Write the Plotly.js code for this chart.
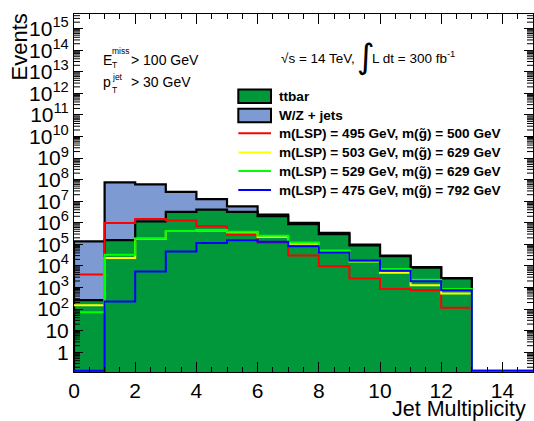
<!DOCTYPE html>
<html><head><meta charset="utf-8">
<script src="https://cdn.plot.ly/plotly-3.0.1.min.js"></script>
<style>html,body{margin:0;padding:0;background:#fff}</style>
</head><body><div id="chart" style="width:534px;height:421px"></div>
<script>
// ---- data (bin contents, bins of width 1 starting at 0) ----
const ttbar  = [260, 1.55e5, 1.15e6, 3.2e6, 4.1e6, 3.2e6, 2.0e6, 8.7e5, 2.95e5, 8.9e4, 2.8e4, 8.3e3, 2.6e3];
const wzJets = [1.37e5, 7.4e7, 5.9e7, 2.4e7, 8.5e6, 2.6e6, 4.0e5, 1.1e5, 4.4e4, 9.0e3, 2.0e3, 400, 120];
const sig495_500 = [3980, 9.8e5, 1.5e6, 1.26e6, 6.8e5, 2.8e5, 1.15e5, 3.0e4, 9.5e3, 2.6e3, 850, 740, 115, 0, 0];
const sig503_629 = [150, 2.3e4, 1.8e5, 4.2e5, 4.4e5, 3.6e5, 2.2e5, 1.07e5, 4.8e4, 1.6e4, 4.8e3, 1.26e3, 525, 0, 0];
const sig529_629 = [71, 3.3e4, 1.86e5, 4.1e5, 4.5e5, 3.8e5, 2.5e5, 1.23e5, 5.2e4, 1.66e4, 7.2e3, 2.3e3, 850, 0, 0];
const sig475_792 = [0, 224, 5.5e3, 4.6e4, 1.15e5, 1.55e5, 1.3e5, 8.1e4, 4.2e4, 1.8e4, 6.0e3, 1.95e3, 740, 0, 0];
const legendLabels = ['ttbar', 'W/Z + jets',
  'm(LSP) = 495 GeV, m(g\u0303) = 500 GeV',
  'm(LSP) = 503 GeV, m(g\u0303) = 629 GeV',
  'm(LSP) = 529 GeV, m(g\u0303) = 629 GeV',
  'm(LSP) = 475 GeV, m(g\u0303) = 792 GeV'];
const yTickVals = [1,1e1,1e2,1e3,1e4,1e5,1e6,1e7,1e8,1e9,1e10,1e11,1e12,1e13,1e14,1e15];
const yTickText = ['1','10','10<sup>2</sup>','10<sup>3</sup>','10<sup>4</sup>','10<sup>5</sup>','10<sup>6</sup>','10<sup>7</sup>','10<sup>8</sup>','10<sup>9</sup>','10<sup>10</sup>','10<sup>11</sup>','10<sup>12</sup>','10<sup>13</sup>','10<sup>14</sup>','10<sup>15</sup>'];

// ---- style / layout ----
const W = 534, H = 421;
const M = {l: 74, r: 1, t: 14, b: 49};
const XR = [0, 15];
const YLOG = [-0.92, 15.68];
const FONT = 'Liberation Sans, Arial, Helvetica, sans-serif';
const cBlue = '#7d9ad3', cGreen = '#00983a';
const sigColors = ['#ff0000', '#ffff00', '#00ff00', '#0000ff'];
const lineFloor = Math.pow(10, YLOG[0] + 0.06);
const fillFloor = 1e-3;

const pw = W - M.l - M.r, ph = H - M.t - M.b;
const px = X => (X - M.l) / pw;
const py = Y => (H - M.b - Y) / ph;

function histFill(vals, floorV) {
  const xs = [0], ys = [floorV];
  vals.forEach((v, i) => { xs.push(i); ys.push(v > 0 ? v : floorV); });
  xs.push(vals.length); ys.push(vals[vals.length - 1]);
  xs.push(vals.length); ys.push(floorV);
  return {xs, ys};
}
function histLine(vals, floorV) {
  const xs = [], ys = [];
  vals.forEach((v, i) => { xs.push(i); ys.push(v > 0 ? v : floorV); });
  xs.push(vals.length); ys.push(ys[ys.length - 1]);
  return {xs, ys};
}

const total = ttbar.map((v, i) => v + wzJets[i]);
const traces = [];
const tTot = histFill(total, fillFloor);
traces.push({x: tTot.xs, y: tTot.ys, type: 'scatter', mode: 'lines', line: {shape: 'hv', color: '#000', width: 2.2},
  fill: 'toself', fillcolor: cBlue, name: legendLabels[1], showlegend: false, hoverinfo: 'skip'});
const tTt = histFill(ttbar, fillFloor);
traces.push({x: tTt.xs, y: tTt.ys, type: 'scatter', mode: 'lines', line: {shape: 'hv', color: '#000', width: 2.2},
  fill: 'toself', fillcolor: cGreen, name: legendLabels[0], showlegend: false, hoverinfo: 'skip'});
[sig495_500, sig503_629, sig529_629, sig475_792].forEach((s, k) => {
  const h = histLine(s, lineFloor);
  traces.push({x: h.xs, y: h.ys, type: 'scatter', mode: 'lines', line: {shape: 'hv', color: sigColors[k], width: 2},
    name: legendLabels[k + 2], showlegend: false, hoverinfo: 'skip'});
});

// log minor ticks (2..9 per decade) on left and right frame, drawn as short segments
const minorLenX = 6 / pw * (XR[1] - XR[0]);
const mtx = [], mty = [];
for (let d = -1; d <= 15; d++) {
  for (let k = 2; k <= 9; k++) {
    const v = k * Math.pow(10, d);
    const lv = Math.log10(v);
    if (lv <= YLOG[0] || lv >= YLOG[1]) continue;
    mtx.push(XR[0], XR[0] + minorLenX, null, XR[1] - minorLenX, XR[1], null);
    mty.push(v, v, null, v, v, null);
  }
}
traces.push({x: mtx, y: mty, type: 'scatter', mode: 'lines', line: {color: '#000', width: 1}, connectgaps: false,
  showlegend: false, hoverinfo: 'skip'});

const shapes = [], annotations = [];
// manual ROOT-style legend
const legX0 = 238.3, legX1 = 271, legTextX = 277.3;
const legY = [96.3, 115.5, 133.3, 152.5, 171, 190];
[cGreen, cBlue].forEach((c, i) => {
  shapes.push({type: 'rect', xref: 'paper', yref: 'paper', x0: px(legX0), x1: px(legX1), y0: py(legY[i] - 6.8), y1: py(legY[i] + 6.8),
    fillcolor: c, line: {color: '#000', width: 2}});
});
sigColors.forEach((c, k) => {
  shapes.push({type: 'line', xref: 'paper', yref: 'paper', x0: px(legX0), x1: px(legX1), y0: py(legY[k + 2]), y1: py(legY[k + 2]),
    line: {color: c, width: 2}});
});
legendLabels.forEach((t, i) => {
  annotations.push({xref: 'paper', yref: 'paper', x: px(legTextX), y: py(legY[i]), xanchor: 'left', yanchor: 'middle',
    text: '<b>' + t + '</b>', showarrow: false, font: {family: FONT, size: 13.6, color: '#000'}});
});
function txt(text, X, Y, size, xa, ya, extra) {
  annotations.push(Object.assign({xref: 'paper', yref: 'paper', x: px(X), y: py(Y), xanchor: xa || 'left', yanchor: ya || 'middle',
    text: text, showarrow: false, font: {family: FONT, size: size, color: '#000'}}, extra || {}));
}
// cut labels
txt('E', 100.5, 60, 14);
txt('miss', 110, 50.5, 8.5);
txt('T', 110, 64.5, 8.5);
txt('> 100 GeV', 129, 60, 14);
txt('p', 100.5, 81.5, 14);
txt('jet', 110, 77, 8.5);
txt('T', 110, 90, 8.5);
txt('> 30 GeV', 129, 81.5, 14);
// energy / luminosity
txt('\u221As = 14 TeV,', 279, 58.5, 13.5);
txt('\u222B', 355, 56, 34, 'left', 'middle', {font: {family: 'DejaVu Sans', size: 34, color: '#000'}});
txt('L dt = 300 fb<sup>-1</sup>', 370, 57, 13.5);
// axis titles
txt('Jet Multiplicity', 528, 423, 21.5, 'right', 'bottom');
txt('Events', 19, 12, 22, 'center', 'top', {textangle: -90});

const layout = {
  width: W, height: H, margin: M, paper_bgcolor: '#fff', plot_bgcolor: '#fff', showlegend: false,
  font: {family: FONT, color: '#000'},
  xaxis: {range: XR, tickmode: 'linear', tick0: 0, dtick: 2, ticks: 'inside', ticklen: 10, tickwidth: 1, tickcolor: '#000',
    minor: {ticks: 'inside', ticklen: 5, dtick: 0.5, tickcolor: '#000', tickwidth: 1, showgrid: false},
    showline: true, mirror: 'allticks', linecolor: '#000', linewidth: 1, showgrid: false, zeroline: false,
    tickfont: {family: FONT, size: 21, color: '#000'}},
  yaxis: {type: 'log', range: YLOG, tickmode: 'array', tickvals: yTickVals, ticktext: yTickText,
    ticks: 'inside', ticklen: 9, tickwidth: 1, tickcolor: '#000',
    showline: true, mirror: 'allticks', linecolor: '#000', linewidth: 1, showgrid: false, zeroline: false,
    tickfont: {family: FONT, size: 21, color: '#000'}},
  shapes: shapes, annotations: annotations
};
Plotly.newPlot('chart', traces, layout, {staticPlot: true, displayModeBar: false});
</script></body></html>
